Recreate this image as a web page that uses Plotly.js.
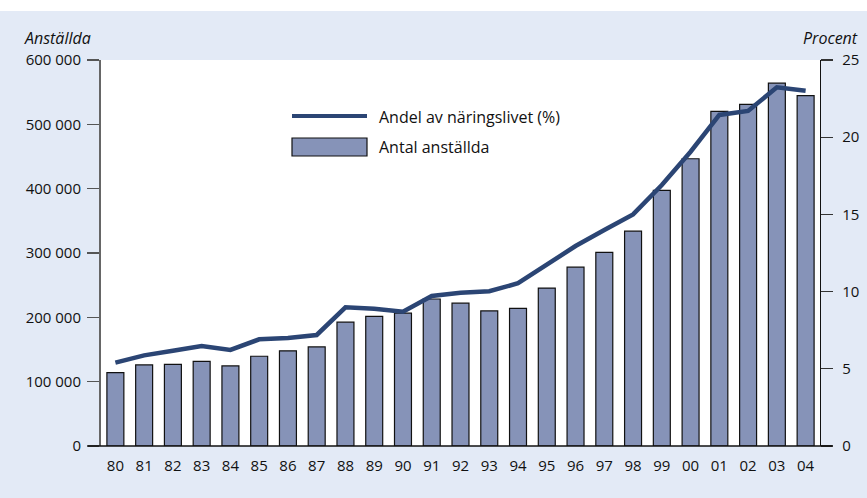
<!DOCTYPE html>
<html><head><meta charset="utf-8">
<script src="https://cdn.plot.ly/plotly-3.0.1.min.js"></script>
<style>html,body{margin:0;padding:0;background:#fff;}#chart{width:867px;height:498px;}</style>
</head><body><div id="chart"></div>
<script>
const years = ["80","81","82","83","84","85","86","87","88","89","90","91","92","93","94","95","96","97","98","99","00","01","02","03","04"];
const employees = [114000,126000,127000,131500,124500,139500,148000,154000,192500,201500,206500,228500,222000,210000,214000,245500,278000,301000,334000,397500,446500,520000,531000,564000,544500];
const sharePct = [5.4,5.87,6.17,6.48,6.22,6.91,6.99,7.19,8.98,8.89,8.70,9.72,9.93,10.02,10.54,11.72,12.95,13.99,15.0,16.9,19.06,21.44,21.70,23.23,23.01];
const leftTicks = [0,100000,200000,300000,400000,500000,600000];
const leftTickText = ["0","100 000","200 000","300 000","400 000","500 000","600 000"];
const rightTicks = [0,5,10,15,20,25];
const lineName = "Andel av näringslivet (%)";
const barName = "Antal anställda";

const barColor = "#8693B8";
const lineColor = "#2B4574";
const fam = "Open Sans, Noto Sans, sans-serif";
const tickFont = {family: fam, size: 15, color: "#111"};
const textFont = {family: fam, size: 16, color: "#111"};

const traces = [
  {type:"bar", x: years, y: employees, name: barName, yaxis:"y",
   marker:{color: barColor, line:{color:"#111", width:1.2}}, showlegend:false, hoverinfo:"x+y"},
  {type:"scatter", mode:"lines", x: years, y: sharePct, name: lineName, yaxis:"y2",
   line:{color: lineColor, width:4.5}, showlegend:false}
];

const layout = {
  width: 867, height: 498,
  margin: {l:101, r:47, t:60, b:52},
  paper_bgcolor: "#fff",
  plot_bgcolor: "#fff",
  font: tickFont,
  bargap: 0.41,
  xaxis: {type:"category", range:[-0.5, 24.5], showgrid:false, zeroline:false,
          ticks:"", showline:false, tickfont: tickFont, ticklabelstandoff:9, fixedrange:true},
  yaxis: {range:[0,600000], tickvals: leftTicks, ticktext: leftTickText, showgrid:false, zeroline:false,
          ticks:"outside", ticklen:12, tickcolor:"#555", tickwidth:1.3,
          showline:true, linecolor:"#666", linewidth:2, tickfont: tickFont, ticklabelstandoff:3, fixedrange:true},
  yaxis2: {range:[0,25], tickvals: rightTicks, overlaying:"y", side:"right", showgrid:false, zeroline:false,
           ticks:"outside", ticklen:12, tickcolor:"#333", tickwidth:1.3,
           showline:true, linecolor:"#111", linewidth:1.3, tickfont: tickFont, ticklabelstandoff:6, fixedrange:true},
  shapes: [
    {type:"rect", xref:"paper", yref:"paper", x0:-101/719, x1:(719+47)/719, y0:-52/386, y1:(446-11)/386,
     fillcolor:"#E3EAF6", line:{width:0}, layer:"below"},
    {type:"rect", xref:"paper", yref:"paper", x0:0, x1:1, y0:0, y1:1,
     fillcolor:"#fff", line:{width:0}, layer:"below"},
    {type:"line", xref:"paper", yref:"paper", x0:-13/719, x1:(719+12)/719, y0:0, y1:0,
     line:{color:"#111", width:1.5}},
    {type:"line", xref:"paper", yref:"paper", x0:(292-101)/719, x1:(367-101)/719, y0:(446-116)/386, y1:(446-116)/386,
     line:{color: lineColor, width:4}},
    {type:"rect", xref:"paper", yref:"paper", x0:(292-101)/719, x1:(367-101)/719, y0:(446-156)/386, y1:(446-138)/386,
     fillcolor: barColor, line:{color:"#111", width:1.2}}
  ],
  annotations: [
    {xref:"paper", yref:"paper", x:(377-101)/719, y:(446-117)/386, xanchor:"left", yanchor:"middle",
     text: lineName, showarrow:false, font: textFont},
    {xref:"paper", yref:"paper", x:(377-101)/719, y:(446-147)/386, xanchor:"left", yanchor:"middle",
     text: barName, showarrow:false, font: textFont},
    {xref:"paper", yref:"paper", x:(22-101)/719, y:(446-38)/386, xanchor:"left", yanchor:"middle",
     text:"<i>Anställda</i>", showarrow:false, font: textFont},
    {xref:"paper", yref:"paper", x:(860-101)/719, y:(446-38)/386, xanchor:"right", yanchor:"middle",
     text:"<i>Procent</i>", showarrow:false, font: textFont}
  ]
};

Plotly.newPlot("chart", traces, layout, {displayModeBar:false, staticPlot:true});
</script></body></html>
